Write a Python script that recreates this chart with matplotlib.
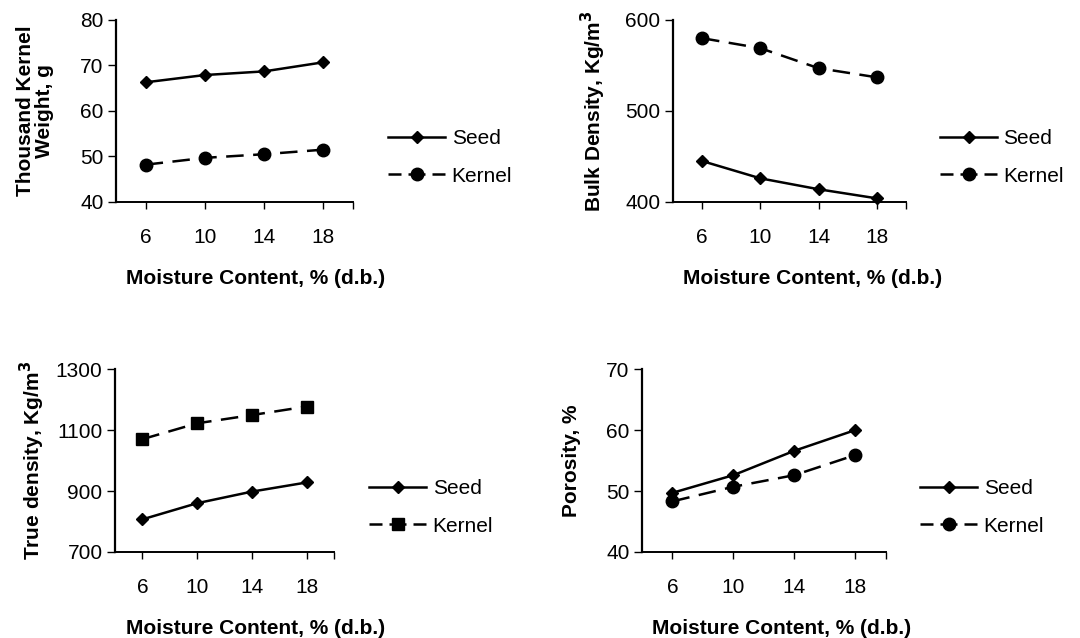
import matplotlib.pyplot as plt
from matplotlib.lines import Line2D
from matplotlib.ticker import FixedLocator, NullFormatter

plt.rcParams['font.family'] = ['Liberation Sans', 'DejaVu Sans']

moisture = [6, 10, 14, 18]

tkw_seed = [66.3, 67.9, 68.7, 70.7]
tkw_kernel = [48.2, 49.7, 50.5, 51.5]

bulk_seed = [445, 426, 414, 404]
bulk_kernel = [580, 569, 547, 537]

true_seed = [807, 860, 898, 928]
true_kernel = [1070, 1122, 1149, 1177]

por_seed = [49.7, 52.6, 56.6, 60.0]
por_kernel = [48.3, 50.7, 52.6, 55.9]

fs = 15

panels = [
    # rect, ylabel, ylim, yticks, seed, kernel, kernel marker, ylabel x, xlabel x, legend x
    ([0.1074, 0.6834, 0.2194, 0.2853], 'Thousand Kernel\nWeight, g', (40, 80), [40, 50, 60, 70, 80],
     tkw_seed, tkw_kernel, 'o', -0.342, 0.59, 1.148),
    ([0.6231, 0.6834, 0.2157, 0.2853], 'Bulk Density, Kg/m$^\\mathbf{3}$', (400, 600), [400, 500, 600],
     bulk_seed, bulk_kernel, 'o', -0.343, 0.60, 1.146),
    ([0.1065, 0.1348, 0.2028, 0.2868], 'True density, Kg/m$^\\mathbf{3}$', (700, 1300), [700, 900, 1100, 1300],
     true_seed, true_kernel, 's', -0.379, 0.64, 1.16),
    ([0.5944, 0.1348, 0.2259, 0.2868], 'Porosity, %', (40, 70), [40, 50, 60, 70],
     por_seed, por_kernel, 'o', -0.287, 0.574, 1.14),
]

fig = plt.figure(figsize=(10.8, 6.38), dpi=100)

for rect, ylab, ylim, yticks, seed, kernel, kmark, ylx, xlx, lgx in panels:
    ax = fig.add_axes(rect)
    kms = 8.5 if kmark == 's' else 9
    ax.plot(moisture, seed, color='black', lw=1.8, marker='D', ms=6.5, clip_on=False)
    ax.plot(moisture, kernel, color='black', lw=1.8, ls=(0, (7, 3.8)), marker=kmark, ms=kms,
            clip_on=False)
    ax.set_xlim(4, 20)
    ax.set_ylim(*ylim)
    ax.set_yticks(yticks)
    ax.set_xticks(moisture)
    ax.xaxis.set_minor_locator(FixedLocator([20]))
    ax.xaxis.set_minor_formatter(NullFormatter())
    ax.tick_params(axis='x', which='both', direction='out', length=5, width=1, pad=14, labelsize=fs)
    ax.tick_params(axis='y', direction='out', length=6, width=1, pad=3, labelsize=fs)
    for s in ['top', 'right']:
        ax.spines[s].set_visible(False)
    ax.spines['left'].set_linewidth(1.6)
    ax.spines['bottom'].set_linewidth(1.4)
    ax.set_ylabel(ylab, fontsize=fs, fontweight='bold', va='center', ha='center', linespacing=0.95)
    ax.yaxis.set_label_coords(ylx, 0.5)
    ax.set_xlabel('Moisture Content, % (d.b.)', fontsize=fs, fontweight='bold', va='center')
    ax.xaxis.set_label_coords(xlx, -0.42)

    # legend handles: symmetric dashes around the marker, like the original
    h_seed = Line2D([], [], color='black', lw=1.8, marker='D', ms=6.5)
    h_kernel = Line2D([], [], color='black', lw=1.8, ls=(0, (5.2, 2.8, 6.8, 2.8)),
                      marker=kmark, ms=kms)
    ax.legend([h_seed, h_kernel], ['Seed', 'Kernel'], loc='center left',
              bbox_to_anchor=(lgx, 0.245), frameon=False, fontsize=fs,
              handlelength=2.75, handletextpad=0.3, labelspacing=0.9, borderpad=0, borderaxespad=0)

plt.savefig('out.png', dpi=100)
